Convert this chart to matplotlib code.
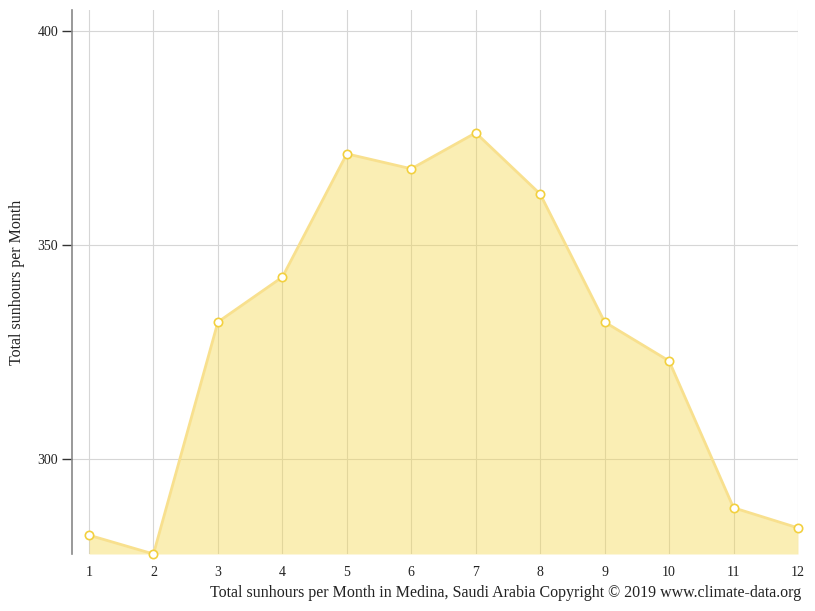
import matplotlib
matplotlib.use("Agg")
from matplotlib import pyplot as plt

MONTHS = [1, 2, 3, 4, 5, 6, 7, 8, 9, 10, 11, 12]
SUNHOURS = [282.2, 277.8, 332.0, 342.5, 371.3, 367.8, 376.2, 361.9, 332.0, 322.9, 288.6, 283.9]
YTICKS = [300, 350, 400]

plt.rcParams['font.family'] = ['Liberation Serif', 'DejaVu Serif']

fig = plt.figure(figsize=(8.15, 6.11), dpi=100)
ax = fig.add_axes([72/815, 1 - 554/611, (798 - 72)/815, (554 - 10)/611])

ybottom = min(SUNHOURS)
ax.fill_between(MONTHS, SUNHOURS, ybottom, color='#F5D84C', alpha=0.42, linewidth=0, zorder=2)
ax.plot(MONTHS, SUNHOURS, color='#F8E08E', linewidth=2, zorder=3)
ax.plot(MONTHS, SUNHOURS, linestyle='none', marker='o', markersize=6,
        markerfacecolor='white', markeredgecolor='#F2D03F', markeredgewidth=1.2,
        zorder=4, clip_on=False)

ax.set_xlim(0.736, 12)
ax.set_ylim(ybottom, 404.9)
ax.set_xticks(MONTHS)
ax.set_yticks(YTICKS)
ax.grid(True, color='#d6d6d6', linewidth=0.8, zorder=1)
ax.set_axisbelow(True)

for s in ['top', 'right', 'bottom']:
    ax.spines[s].set_visible(False)
ax.spines['left'].set_color('#888888')
ax.spines['left'].set_linewidth(1.2)

ax.tick_params(axis='x', length=0, pad=9, labelsize=10, colors='#333333')
ax.tick_params(axis='y', length=7, pad=3, labelsize=10, colors='#333333', width=1)
for lbl in ax.get_xticklabels() + ax.get_yticklabels():
    lbl.set_color('#222222')

fig.text(17/815, 1 - 282/611, 'Total sunhours per Month', rotation=90,
         ha='center', va='center', fontsize=11.5, color='#222222')
fig.text(801/815, 1 - 593/611,
         'Total sunhours per Month in Medina, Saudi Arabia Copyright \u00a9 2019 www.climate-data.org',
         ha='right', va='center', fontsize=11.5, color='#222222')

plt.savefig('out.png', dpi=100)
